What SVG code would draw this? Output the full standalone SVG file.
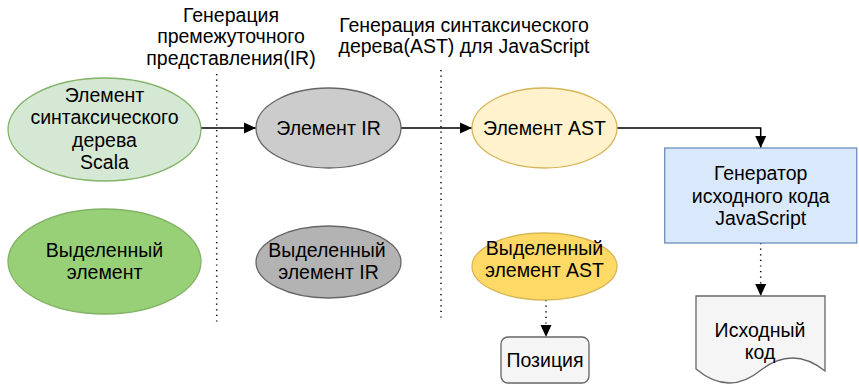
<svg xmlns="http://www.w3.org/2000/svg" width="859" height="385" viewBox="0 0 859 385">
<style>
text{font-family:"Liberation Sans",Arial,sans-serif;font-size:19.5px;fill:#000;text-anchor:middle}
.shape{stroke-width:1.3}
.conn{fill:none;stroke:#000;stroke-width:1.5}
.dot{fill:none;stroke:#000;stroke-width:1.5;stroke-dasharray:1.2 4.4}
</style>
<defs>
<marker id="arr" markerUnits="userSpaceOnUse" markerWidth="12" markerHeight="12" refX="12" refY="6" orient="auto">
<path d="M0,0.5 L12,6 L0,11.5 Z" fill="#000"/>
</marker>
</defs>
<g id="labels">
<text x="231" y="21.7">Генерация</text>
<text x="231" y="43.4">премежуточного</text>
<text x="231" y="65">представления(IR)</text>
<text x="464" y="31.7">Генерация синтаксического</text>
<text x="464" y="53.3">дерева(AST) для JavaScript</text>
</g>
<g id="connectors">
<line class="dot" x1="216.7" y1="74" x2="216.7" y2="324"/>
<line class="dot" x1="441" y1="70" x2="441" y2="322"/>
<path class="conn" d="M201,128 H256" marker-end="url(#arr)"/>
<path class="conn" d="M401,128 H472" marker-end="url(#arr)"/>
<path class="conn" d="M617,128 H760.7 V148" marker-end="url(#arr)"/>
<path class="dot" d="M760.7,243 V296" marker-end="url(#arr)"/>
<path class="dot" d="M546,300 V337" marker-end="url(#arr)"/>
</g>
<g id="scala-element">
<ellipse class="shape" cx="104.5" cy="129.5" rx="96.5" ry="51.5" fill="#d5e8d4" stroke="#82b366"/>
<text x="104.5" y="101.5">Элемент</text>
<text x="104.5" y="124">синтаксического</text>
<text x="104.5" y="146.5">дерева</text>
<text x="104.5" y="169">Scala</text>
</g>
<g id="ir-element">
<ellipse class="shape" cx="328.5" cy="128" rx="72.5" ry="40" fill="#cccccc" stroke="#666666"/>
<text x="328.5" y="135">Элемент IR</text>
</g>
<g id="ast-element">
<ellipse class="shape" cx="544.5" cy="128" rx="72.5" ry="40" fill="#fff2cc" stroke="#d6b656"/>
<text x="544.5" y="135">Элемент AST</text>
</g>
<g id="generator">
<rect class="shape" x="664.7" y="148" width="192" height="95" fill="#dae8fc" stroke="#6c8ebf"/>
<text x="760.7" y="180">Генератор</text>
<text x="760.7" y="202.5">исходного кода</text>
<text x="760.7" y="225">JavaScript</text>
</g>
<g id="selected-element">
<ellipse class="shape" cx="104.5" cy="261.5" rx="96.5" ry="52.5" fill="#97d077" stroke="#82b366"/>
<text x="104.5" y="256.7">Выделенный</text>
<text x="104.5" y="279">элемент</text>
</g>
<g id="selected-ir">
<ellipse class="shape" cx="328.5" cy="262" rx="72.5" ry="36" fill="#b3b3b3" stroke="#666666"/>
<text x="327" y="256.7">Выделенный</text>
<text x="328.5" y="279">элемент IR</text>
</g>
<g id="selected-ast">
<ellipse class="shape" cx="544.5" cy="266.5" rx="72.5" ry="33.5" fill="#ffd966" stroke="#d6b656"/>
<text x="544.5" y="255">Выделенный</text>
<text x="544.5" y="276.7">элемент AST</text>
</g>
<g id="position">
<rect class="shape" x="501" y="337" width="88" height="46" rx="7" fill="#f5f5f5" stroke="#666666"/>
<text x="545" y="366.7">Позиция</text>
</g>
<g id="source-code">
<path class="shape" d="M696,296 H825 V371 Q793,345.5 761,370 Q729,396.5 696,369 Z" fill="#f5f5f5" stroke="#666666"/>
<text x="760" y="336.7">Исходный</text>
<text x="760" y="359">код</text>
</g>
</svg>
